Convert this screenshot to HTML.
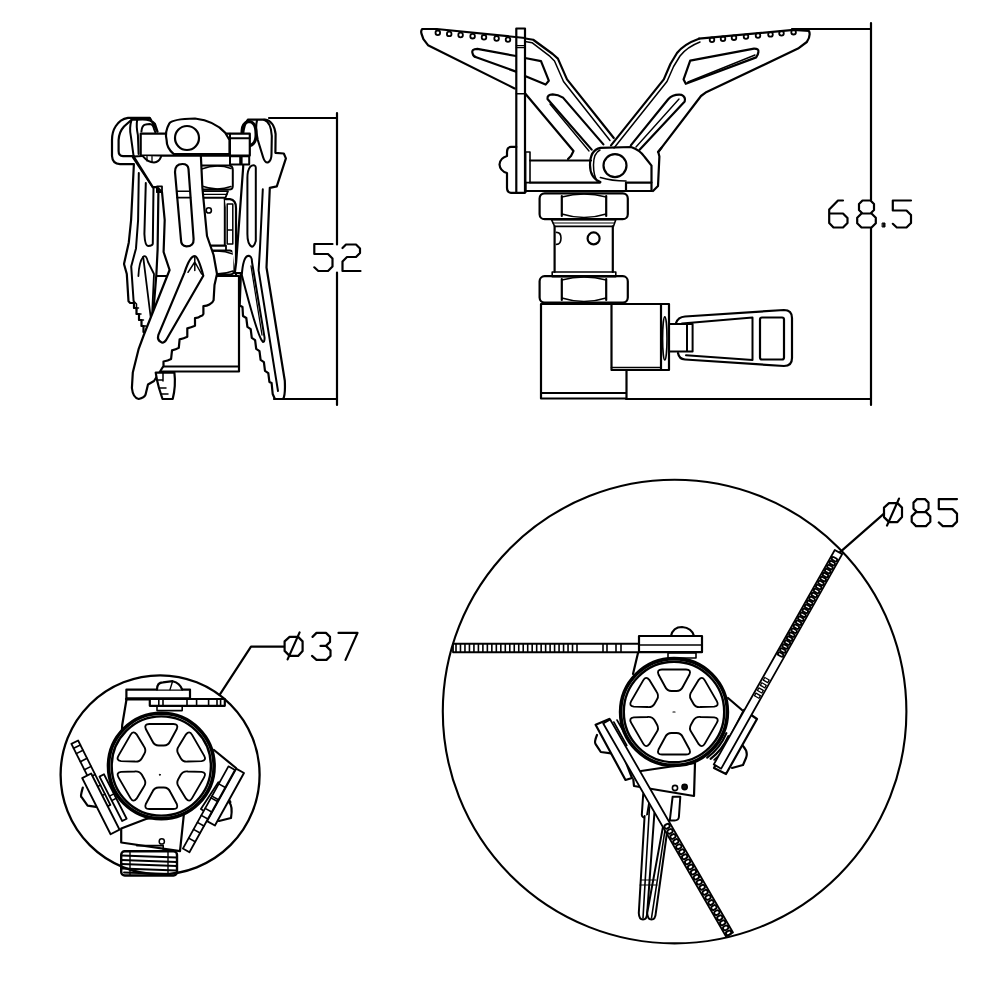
<!DOCTYPE html>
<html><head><meta charset="utf-8">
<style>
html,body{margin:0;padding:0;background:#fff;width:1000px;height:1000px;overflow:hidden;font-family:"Liberation Sans",sans-serif;}
svg{display:block;}
</style></head><body>
<svg width="1000" height="1000" viewBox="0 0 1000 1000">
<defs>
<path id="d5" d="M19,0.5 H0.8 V10.5 H14.5 L19,15 V23 L14.5,27.5 H4.8 L0.8,23.8"/>
<path id="d2" d="M1.5,4.5 L5,1 H15 L19,5 V9.5 L15,13.5 H6 L1.5,18 V27.5 H19.5"/>
<path id="d6" d="M15,0.5 H10 L1.2,9.5 V23 L5.5,27.5 H15 L19.5,23 V18 L15,13.5 H1.5"/>
<path id="d8" d="M6,0.5 H14 L17.5,4 V10 L14,13.5 H6 L2.5,10 V4 Z M5,13.5 H15 L19.3,17.8 V23.2 L15,27.5 H5 L0.7,23.2 V17.8 Z"/>
<path id="d3" d="M1,4.5 L5,0.5 H14.5 L18.5,4.5 V9.5 L14.5,13.5 H9 M14.5,13.5 L19,18 V23.5 L15,27.5 H5 L0.5,23.5"/>
<path id="d7" d="M0.5,0.5 H19.5 L7.5,27.5"/>
<path id="dphi" d="M6,4.5 H14.5 L19,9 V18.5 L14.5,23.5 H6 L1,18.5 V9 Z M4,27 L16,0"/>
<g id="hole"><path d="M-14,-8 Q-16,-12 -11,-12 H11 Q16,-12 14,-8 L3,9 Q0,13 -3,9 Z"/></g>
</defs>
<g fill="none" stroke="#000" stroke-width="2.2" stroke-linejoin="round" stroke-linecap="round">

<!-- ===== Dimension lines & text ===== -->
<g id="dims">
  <!-- 52 -->
  <path d="M269,118 H337 M337,113 V244.5 M337,272.5 V405 M274,399 H337"/>
  <use href="#d5" x="313.5" y="243.5"/>
  <use href="#d2" x="341" y="243.5"/>
  <!-- 68.5 -->
  <path d="M792,29 H871 M871,23 V200 M871,228 V405 M626,399 H871"/>
  <use href="#d6" x="828" y="200"/>
  <use href="#d8" x="856.5" y="200"/>
  <rect x="882.5" y="223" width="2.5" height="4" fill="#111" stroke-width="1"/>
  <use href="#d5" x="892" y="200"/>
  <!-- ø37 -->
  <path d="M219.6,694.8 L251,646.7 H283.6"/>
  <use href="#dphi" x="283.6" y="632.4"/>
  <use href="#d3" x="311.5" y="632.4"/>
  <use href="#d7" x="338" y="632.4"/>
  <!-- ø85 -->
  <path d="M839.8,552.4 L884,513.6"/>
  <use href="#dphi" x="883" y="498.6"/>
  <use href="#d8" x="911" y="498.6"/>
  <use href="#d5" x="938" y="498.6"/>
</g>


<!-- ===== Top-right stove ===== -->
<g id="stoveR">
  <!-- left wing -->
  <path d="M436.6,29 L422.2,29 Q420.5,31 421.6,34 L423.4,39.2 L428,45.2 L514.6,88.4"/>
  <path d="M436.6,29 L525,38" />
  <g stroke-width="1.8"><circle cx="437.8" cy="32.8" r="2.3"/><circle cx="449.2" cy="33.9" r="2.3"/><circle cx="460.6" cy="35.0" r="2.3"/><circle cx="472.6" cy="36.2" r="2.3"/><circle cx="484" cy="37.3" r="2.3"/><circle cx="496.6" cy="38.5" r="2.3"/><circle cx="508" cy="39.6" r="2.3"/></g>
  <!-- slot1 -->
  <path d="M516,56 L477.4,48.8 Q471,49 472.6,53.5 Q473.5,57 476.2,57.2 L516,71.6"/>
  <path d="M525,58 L541,61.2 L548.8,80.7 L545.6,84.6 L525,76"/>
  <!-- arm outer double edge -->
  <path d="M525.4,38.5 L533.2,39.75 L552.7,54 L557.9,58.6 L567,79.4 L613.8,138"/>
  <path d="M525,41.5 L532,42.7 L550,56.4 L554.5,61 L563.5,81.5 L610,140.5" stroke-width="1.5"/>
  <!-- arm lower edge -->
  <path d="M525.4,93.7 L573.5,151 L571,156 L568,159"/>
  <!-- slot2 -->
  <path d="M591.7,149.6 L547.5,99 Q547,94.5 552.7,94.4 Q558,94.5 563,97.6 L603.4,144.4"/>
  <path d="M589,151 L550,104" stroke-width="1.4"/>
  <!-- right wing -->
  <path d="M699,38.7 L793.6,29.9 L809,31 Q811,36 806.8,42 L798,48.6 L705.6,92.6 L701,96 L661.6,147.6 L658.3,152 L659.4,156.4 L658,186 L653,191"/>
  <g stroke-width="1.8"><circle cx="712" cy="39.8" r="2.3"/><circle cx="723" cy="38.8" r="2.3"/><circle cx="734" cy="37.7" r="2.3"/><circle cx="746" cy="36.6" r="2.3"/><circle cx="758" cy="35.5" r="2.3"/><circle cx="770.5" cy="34.4" r="2.3"/><circle cx="781.5" cy="33.3" r="2.3"/><circle cx="793.6" cy="32.2" r="2.3"/></g>
  <path d="M699,38.7 Q684,44 677,53 L670.4,64 L663.8,79.4 L611,145.4"/>
  <path d="M700,42 Q687,47 680,56 L673.6,66.5 L667,81.5 L614,148" stroke-width="1.5"/>
  <!-- upper slot -->
  <path d="M685.8,83.8 L683.6,79.4 L690.2,60.7 L754,48.6 Q759,48.5 758.4,52 Q758,55 756.2,57.4 Z"/>
  <path d="M688,82 L755,55" stroke-width="1.4"/>
  <!-- lower slot -->
  <path d="M630.8,145.4 L668.2,99.2 Q673,94 681.4,94.8 Q686,97 684.7,101.4 L639.6,149.8"/>
  <path d="M636,147 L679,99" stroke-width="1.4"/>
  <!-- vertical plate -->
  <rect x="516.3" y="28.5" width="8.7" height="164.3"/>
  <path d="M516.3,45.6 H525 M516.3,47.6 H525 M516.3,93.7 H525" stroke-width="1.4"/>
  <!-- knob -->
  <path d="M516.3,146.9 H511 Q507,147 507,152 V156 Q500,158 499.5,164.5 Q500,171 507,173 V188 Q507,192.5 511,192.8 H516.3"/>
  <!-- washer -->
  <rect x="525.6" y="152" width="4.4" height="30.6" stroke-width="1.6"/>
  <!-- pin bar -->
  <path d="M530,160.5 H591 M530,182.6 H600"/>
  <!-- bottom plate -->
  <path d="M525.6,182.6 V192 M525.6,191 H651.5 M626,182.6 H651.5 M626,182.6 V191" />
  <!-- lug -->
  <path d="M600.4,182 Q590,178 590,165 Q590,150 600.4,147.8 L631,147 Q640,150 644.7,157 L651.5,165.6 L651.5,191"/>
  <path d="M597,181 Q593.5,175 593.5,165 Q593.5,153 600,150" stroke-width="1.5"/>
  <path d="M600.4,177.5 Q612,181 626,181" stroke-width="1.6"/>
  <circle cx="615" cy="165.6" r="11.5"/>
  <path d="M658,152 L661.6,147.6" />
  <!-- upper hex nut -->
  <rect x="539.6" y="193.4" width="88.2" height="25.8" rx="5"/>
  <path d="M561.8,196 V216 M606.2,196 V216"/>
  <path d="M561.8,197 Q584,191 606.2,197 M561.8,214 Q584,221 606.2,214" stroke-width="1.5"/>
  <!-- ring -->
  <path d="M551.6,219.8 H615.8 L613.4,226.4 H554.6 Z" stroke-width="1.6"/>
  <path d="M553,223 H614.5" stroke-width="1"/>
  <!-- cylinder -->
  <path d="M554.6,226.4 V272 M612.8,226.4 V272"/>
  <circle cx="593.6" cy="238.4" r="6"/>
  <path d="M556.5,232.4 Q561,232.4 561,238 Q561,244.4 556.5,244.4" stroke-width="1.6"/>
  <!-- lower ring -->
  <path d="M552.2,272 H615.8 V276.8 H552.2 Z" stroke-width="1.6"/>
  <!-- lower hex nut -->
  <rect x="539.6" y="276.2" width="88.2" height="26.4" rx="5"/>
  <path d="M561.8,279 V300 M606.2,279 V300"/>
  <path d="M561.8,280 Q584,274 606.2,280 M561.8,298 Q584,305 606.2,298" stroke-width="1.5"/>
  <!-- main block -->
  <path d="M541,304 H661 M541,304 V398.5 H626.5 V370 M541,393 H626.5"/>
  <path d="M611.5,304 V370 H669 V304 H661 V370"/>
  <path d="M611.5,367.5 H661" stroke-width="1.6"/>
  <ellipse cx="664.8" cy="338.4" rx="2.2" ry="21.5" stroke-width="1.6"/>
  <!-- stem -->
  <path d="M669.4,324 H692.6 V351.6 H669.4 M687,324 V351.6" stroke-width="2"/>
  <!-- handle -->
  <path d="M676,323 Q678,317 685,316.5 L784,310 Q792,310 792,318 V358 Q792,366 784,366 L685,359.5 Q679,359 678,353" fill="none"/>
  <path d="M682,323.5 L752.5,317.5 V360 L686,355.2" stroke-width="2"/>
  <rect x="760" y="317.5" width="24" height="42" rx="2"/>
</g>


<!-- ===== Top-left folded stove ===== -->
<g id="stoveL">
  <!-- L0: body behind -->
  <path d="M152.8,276 H239 V371.5 H152.8 Z" fill="#fff"/>
  <path d="M152.8,366.5 H239" stroke-width="2"/>
  <path d="M172,250.4 H230 Q234.4,251 234.4,256 V270 Q234.4,274.4 230,274.4 H172 Z" fill="#fff" stroke-width="2"/>
  <path d="M205,252.5 Q220,249 233,254 M205,272 Q220,276 233,271" stroke-width="1.4"/>
  <path d="M176,245.6 H226 V250.4 H176 Z" fill="#fff" stroke-width="1.8"/>
  <rect x="176" y="197.6" width="48.8" height="48" fill="#fff" stroke-width="2"/>
  <circle cx="208.8" cy="210.4" r="2.6" stroke-width="1.6"/>
  <path d="M224.8,199.2 H230 Q236,200 236,208 V276" fill="#fff" stroke-width="2.2"/>
  <path d="M227.2,204 H232.8 V244 H227.2 Z M227.2,230 H232.8" stroke-width="1.5"/>
  <path d="M172,191.2 H228 L225.5,197.6 H175 Z" fill="#fff" stroke-width="1.8"/>
  <path d="M173,194.4 H227" stroke-width="1.2"/>
  <path d="M165,165.6 H229 Q232.8,166 232.8,170 V186 Q232.8,189.6 229,189.6 H165 Z" fill="#fff" stroke-width="2"/>
  <path d="M201.6,169 Q217,163.5 231,168.5 M201.6,186 Q217,191.5 231,186.5" stroke-width="1.5"/>

  <!-- L1: right leg -->
  <path d="M243.2,166.8 L236.2,262 L234.8,273 L240.9,273.2 L239.7,305.5 L242.5,307 L243,316 L246.3,318 L247.4,326.9 L250.7,329.1 L251.8,337.9 L255.1,340.1 L256.2,348.9 L259.5,351.1 L260.6,359.9 L263.9,362.1 L265,370.9 L268.3,373.1 L269.4,381.9 L271.6,383 L272.7,394 L274.9,399 H283 Q285.5,396 284.8,380.8 L266.5,267.5 L269.8,187.8 L276.8,186.4 L285.9,158.4 L283.8,153.5 L275.4,152.8 L275.6,134 Q274,121 265,119.5 L248,119.6 Q244,124 243,135 Z" fill="#fff"/>
  <path d="M262.8,189.2 L260,248 L258.6,270.4 L278,391" stroke-width="2"/>
  <path d="M257,120.5 Q255,128 257.8,140 L263.2,157.5 Q265,163 267.8,162.5 Q271.5,161 271.5,154 L271.8,136 Q271,122 264,119.8" stroke-width="2.1"/>
  <path d="M250.2,166.8 Q252,165 254.4,165.4 Q256,166 255.8,168.2 L255.8,241 Q254,247 251.6,246.6 Q247.4,244 247.4,234 V178 Q247.4,170 250.2,166.8 Z" stroke-width="2"/>
  <path d="M247.5,256 Q252,255 252,262 L264.6,337.8 Q264.5,343 262.7,341.6 Q258,338 241.8,275 Q243,258 247.5,256 Z" stroke-width="2"/>
  <path d="M251,266 L262,335" stroke-width="1.3"/>
  <!-- right washer -->
  <path d="M244,146.5 Q256.5,147 256,134 Q256,121 248,121.5 Q242,124 242,131 V146" stroke-width="3"/>

  <!-- L1: left leg -->
  <path d="M149.8,117.8 H128 Q120,119 115.5,126.5 Q112,132 112,140 V156 Q112.5,164 120,164.1 L133.9,164 L131.1,220 L128.8,242.4 L124,264 L126.8,274 L128.5,301.2 L130.2,303 H134 V308 H136.5 V314 H139 V320 H141.5 V326 H143.5 V332 H145.5 V337 L150,337 L153,316.5 L156.4,274 L157.6,249.6 L158.4,192 L157,186 L152.8,187.1 L133,157.5 L133.9,156.1 H123 Q118.6,156 118.6,151 V140 Q119,132 124,126.5 L131.6,119.7 L137.2,119.7 Q150,118 155,124 L157.5,131.6 Z" fill="#fff"/>
  <path d="M131.6,119.7 Q129,128 130.9,136.5 L133.7,156.8" stroke-width="2"/>
  <path d="M137.2,119.7 Q136,126 137.9,135.1 L138.6,154" stroke-width="2"/>
  <path d="M141.4,131.6 Q142,125 145.6,124.6 L149.8,123.9 Q153,124 154,128.8 L155.4,132.3" stroke-width="2"/>
  <path d="M138.8,173.1 L138.1,220 L136,248.4 L131.2,266.4 L133.6,301" stroke-width="2"/>
  <path d="M145.8,182.9 L144.4,234 Q145,246 148,246 Q152.8,246 152.8,243.6 L153.5,187.1" stroke-width="2"/>
  <path d="M157,186.4 H162 V192 H157 Z" stroke-width="1.8"/>
  <path d="M143.2,256.8 Q146,254 148,262 L154,274 L152,316.5 L150.6,316.5 Z" stroke-width="1.8"/>
  <path d="M138.4,276 Q139,262 143.2,256.8" stroke-width="1.8"/>
  <path d="M133.6,301 L136.5,304 V310 M134,308 H138.5 M136.5,314 H141 M139,320 H143.5 M141.5,326 H146 M143.5,332 H148" stroke-width="1.5"/>

  <!-- center arm body -->
  <path d="M134,157 L152.8,187.1 H157 L162,192 L164.7,220 L163.6,252 L169.6,270 L166,279 L143.8,335 L138.7,348.8 L132.8,372.6 L131.9,388 Q133,398 138.7,399 Q144,398 145.5,394.8 L148,384.5 L154,381 L163.5,366 L163.5,361.5 Q168,360.5 171.1,358.9 L172,350.4 Q176,349.5 178.8,347.9 L179.6,339.4 Q184,338.5 187.3,336.8 L187.3,328.3 Q191,327.5 195,325.8 L195,318.1 Q199,317.5 200,316.4 Q203,315.5 203.4,313.9 L203.4,306.2 Q207,306 209.4,304.5 Q213,302.5 213.6,300.3 L214.5,285 L217,274 L213.6,255 L207,236 L202.4,188 L200.8,154.4 L201,146 H142 V156 L134,156.5 Z" fill="#fff"/>
  <path d="M157,186.4 H162 V192 H157 Z" stroke-width="1.8"/>
  <!-- L2: top bar -->
  <path d="M140.7,133.7 H249.8 V155.6 H140.7 Z" fill="#fff"/>
  <path d="M230,138.2 H249.8 M230,133.7 V155.6" stroke-width="2"/>
  <path d="M230,156.2 H249.2 V164.6 H230 Z M240.2,156.2 V164.6 M241.6,156.2 V164.6" fill="#fff" stroke-width="2"/>
  <path d="M142.8,156.1 Q148,162.4 154,162.4 Q159,162 161,156.8" fill="#fff" stroke-width="2"/>
  <path d="M147,156.5 V161 M152,156.5 V162" stroke-width="1.3"/>

  <!-- L3: lug -->
  <path d="M229.5,154.2 V140 L225.2,132.8 Q215,121 195,118.5 Q172,119 169.3,123.5 Q164.5,132 166.6,140 Q166.5,148 173.8,154.2 Z" fill="#fff"/>
  <circle cx="187" cy="138" r="12" stroke-width="2.2"/>
  <!-- upper slot (see-through) -->
  <path d="M175,172 Q175,164 182.4,164 Q188,164 188.5,169 L193.6,239 Q194,246.4 186.4,246.4 Q181,246 181,240 Z" fill="#fff"/>
  <path d="M176.8,191.2 H190 M177,197.6 H190.5" stroke-width="1.6"/>
  <!-- lower slot -->
  <path d="M194.8,256.2 Q198,256 203.3,275.7 L166,340.3 Q163,344 161,342 Q157,340 158.3,335.2 L184.6,272.3 Q190,256 194.8,256.2 Z" fill="#fff"/>
  <path d="M188,272.3 L194.8,262 L201.6,274 M194.8,257 V270.6" stroke-width="1.5"/>
  <!-- small bottom toothed piece -->
  <path d="M155.7,372.6 H174.4 Q176,386 172.7,399 H162.5 L159,388 L157,380 Z" fill="#fff"/>
  <path d="M157,380 H163 M159,388 H166 M161,394 H168 M163,372.6 V381" stroke-width="1.5"/>
</g>

<!-- ===== Small circle (ø37) contents ===== -->
<g id="smallC">
  <!-- body behind -->
  <path d="M126.4,700 L122.2,725 L120,770" />
  <path d="M214,750 L236,768" />
  <!-- blobs -->
  <path d="M82.8,787.6 Q80,797 81.6,797.2 L87.6,805.6 L96,806.8" fill="#fff"/>
  <path d="M222,819 L230.4,802 L226,795" fill="none"/>
  <!-- bottom block -->
  <path d="M121.2,828.5 L146,819 L184,813 L180,851.2 L121.2,842.5 Z" fill="#fff"/>
  <circle cx="161.8" cy="841.4" r="2.6" stroke-width="1.5"/>
  <!-- threaded connector -->
  <path d="M136.6,845.6 H163.2 V851.2" stroke-width="1.6"/>
  <rect x="121.2" y="851.2" width="55.8" height="24.3" rx="3.5" fill="#fff" stroke-width="2.4"/>
  <path d="M121.5,855.5 L176.5,857.5 M121.5,860 L176.5,862 M121.5,864 L176.5,866 M121.5,868.5 L176.5,870.5 M124,872.5 L170,874" stroke-width="1.9"/>
  <path d="M130,852 V875 M168,852 V875" stroke-width="1.4"/>
  <!-- top bracket -->
  <rect x="126.4" y="689.6" width="63.6" height="9" fill="#fff"/>
  <path d="M157,689.6 Q157,682.4 163,682.4 L172.6,681.2 Q180,683 182.2,689.6" fill="#fff"/>
  <path d="M172.6,681.2 L170,689.6" stroke-width="1.4"/>
  <path d="M126.4,699 H190" stroke-width="3"/>
  <rect x="149.8" y="699" width="75" height="6.8" fill="#fff"/>
  <path d="M158.8,699 V705.8 M163,699 V705.8 M187,699 V705.8 M196.6,699 V705.8 M208.6,699 V705.8 M217,699 V705.8 M220.6,699 V705.8" stroke-width="1.6"/>
  <rect x="157" y="705.8" width="25.2" height="4.8" stroke-width="1.6"/>
  <!-- burner head -->
  <circle cx="161.3" cy="766" r="52.8" fill="#fff" stroke-width="3.6"/>
  <circle cx="161.3" cy="766" r="49.6" stroke-width="2.4"/>
  <g transform="translate(161.3,766.5)" stroke-width="1.9">
    <path id="hh" d="M-12,-42.5 H12 Q17.5,-42.5 15.5,-37.5 L9,-25.5 Q7,-21 2.5,-21 H-2.5 Q-7,-21 -9,-25.5 L-15.5,-37.5 Q-17.5,-42.5 -12,-42.5 Z"/>
    <use href="#hh" transform="rotate(60)"/><use href="#hh" transform="rotate(120)"/>
    <use href="#hh" transform="rotate(180)"/><use href="#hh" transform="rotate(240)"/><use href="#hh" transform="rotate(300)"/>
  </g>
  <circle cx="159.8" cy="774.8" r="0.5" fill="#111" stroke-width="1"/>
  <!-- dark double strips hugging burner -->
  <g transform="translate(99.5,776.5) rotate(-27)"><rect x="0" y="0" width="5" height="50" fill="#fff" stroke-width="1.8"/><path d="M0,22 H5 M0,27 H5" stroke-width="1.5"/></g>
  <g transform="translate(222.5,785) rotate(33)"><rect x="-5" y="0" width="5" height="32" fill="#fff" stroke-width="1.8"/></g>
  <!-- left strip + plate -->
  <g transform="translate(71.4,743.8) rotate(-26.6)">
    <rect x="0" y="0" width="7.5" height="72" fill="#fff" stroke-width="1.8"/>
    <path d="M0,5 H7.5 M0,11 H7.5 M0,20 H7.5 M0,29 H7.5 M0,38 H7.5 M0,50 H7.5 M0,60 H7.5" stroke-width="1.6"/>
  </g>
  <g transform="translate(82.2,778) rotate(-26.8)">
    <rect x="0" y="0" width="10" height="63" fill="#fff" stroke-width="1.9"/>
  </g>
  <!-- right strip + plate -->
  <path d="M229,802 Q233,806 231,818 L219,821" fill="#fff"/>
  <g transform="translate(244,773) rotate(29)">
    <rect x="-9" y="0" width="9" height="60" fill="#fff" stroke-width="1.9"/>
  </g>
  <g transform="translate(235,770) rotate(29)">
    <rect x="-7.5" y="0" width="7.5" height="94" fill="#fff" stroke-width="1.8"/>
    <path d="M-7.5,20 H0 M-7.5,34 H0 M-7.5,36 H0 M-7.5,48 H0 M-7.5,56 H0 M-7.5,64 H0 M-7.5,72 H0 M-7.5,82 H0" stroke-width="1.6"/>
  </g>
</g>

<!-- ===== Big circle (ø85) contents ===== -->
<g id="bigC">
  <!-- horizontal toothed strip -->
<g transform="translate(453.0,648.0) rotate(0.00)">
<rect x="0" y="-4.25" width="249.0" height="8.50" fill="#fff" stroke-width="1.8"/>
<path d="M3.00,-4.25 V4.25 M7.48,-4.25 V4.25 M11.96,-4.25 V4.25 M16.44,-4.25 V4.25 M20.93,-4.25 V4.25 M25.41,-4.25 V4.25 M29.89,-4.25 V4.25 M34.37,-4.25 V4.25 M38.85,-4.25 V4.25 M43.33,-4.25 V4.25 M47.81,-4.25 V4.25 M52.30,-4.25 V4.25 M56.78,-4.25 V4.25 M61.26,-4.25 V4.25 M65.74,-4.25 V4.25 M70.22,-4.25 V4.25 M74.70,-4.25 V4.25 M79.19,-4.25 V4.25 M83.67,-4.25 V4.25 M88.15,-4.25 V4.25 M92.63,-4.25 V4.25 M97.11,-4.25 V4.25 M101.59,-4.25 V4.25 M106.07,-4.25 V4.25 M110.56,-4.25 V4.25 M115.04,-4.25 V4.25 M119.52,-4.25 V4.25 M124.00,-4.25 V4.25" stroke-width="1.6"/>
<path d="M150.00,-4.25 V4.25 M154.00,-4.25 V4.25" stroke-width="1.6"/>
<path d="M163.00,-4.25 V4.25 M168.00,-4.25 V4.25" stroke-width="1.6"/>
</g>
  <!-- bracket -->
  <path d="M671,636 Q673,627 682,627 Q692,628 694,636" fill="#fff"/>
  <rect x="639" y="636" width="63" height="16" fill="#fff"/>
  <path d="M639,645 H702" stroke-width="1.6"/>
  <rect x="668" y="653" width="28" height="5" stroke-width="1.6"/>
  <!-- body -->
  <path d="M638,653 L633,674" />
  <path d="M728,698 L742,710"/>
  <!-- blobs -->
  <path d="M597,735 Q594,742 595.6,744.2 L600.8,752 L611.2,753.3" />
  <path d="M743,746 Q748.5,752 746,758 L743,765 L732,768"/>
  <!-- lower body -->
  <path d="M641,771 L695,763 L694,796 L634,786 L633.3,779.3" fill="#fff"/>
  <circle cx="675" cy="788" r="2.6" stroke-width="1.6"/>
  <circle cx="684.6" cy="787" r="2.6" stroke-width="1.6" fill="#111"/>
  <!-- handle legs -->
  <path d="M643.2,794 L641.8,815 Q642,818 646.7,817.5 L650,798 Z" fill="#fff" stroke-width="2"/>
  <path d="M644.6,816 L638.8,913 Q639,919.5 643,919.5 Q647,919.5 647.2,913 L654.4,813" fill="#fff" stroke-width="2"/>
  <path d="M649.5,807 L643,918" stroke-width="1.6"/>
  <path d="M662.8,827.6 L647.2,913 Q647.5,919.5 651.5,919.5 Q655.5,919.5 655.8,913 L667,832.5" fill="#fff" stroke-width="2"/>
  <path d="M665,830 L651.5,918" stroke-width="1.6"/>
  <path d="M641,880 H656 M640,885 H657" stroke-width="1.2"/>
  <path d="M672.6,796.8 H680.3 L678.9,817 Q678.5,820.5 674.5,820.5 H669.8 Z" fill="#fff" stroke-width="2"/>
  <!-- burner head -->
  <circle cx="674" cy="712" r="53.4" fill="#fff" stroke-width="3.6"/>
  <circle cx="674" cy="712" r="50.2" stroke-width="2.4"/>
  <g transform="translate(674,712)" stroke-width="1.9">
    <use href="#hh"/><use href="#hh" transform="rotate(60)"/><use href="#hh" transform="rotate(120)"/>
    <use href="#hh" transform="rotate(180)"/><use href="#hh" transform="rotate(240)"/><use href="#hh" transform="rotate(300)"/>
  </g>
  <path d="M673,712 H675" stroke-width="1.2"/>
  <!-- left plate -->
  <path d="M595.6,724.7 L609.3,718.9 L632,778 L625.5,780 Z" fill="#fff"/>
  <path d="M613.8,722 L626.8,745.5 M617,720 L630,743" stroke-width="1.6"/>
  <!-- left long strip -->
<g transform="translate(606.7,721.5) rotate(60.04)">
<rect x="0" y="-4.00" width="245.9" height="8.00" fill="#fff" stroke-width="1.8"/>
<rect x="118.94" y="-2.72" width="3.99" height="5.44" rx="1.99" stroke-width="1.9"/>
<rect x="124.80" y="-2.72" width="3.99" height="5.44" rx="1.99" stroke-width="1.9"/>
<rect x="130.67" y="-2.72" width="3.99" height="5.44" rx="1.99" stroke-width="1.9"/>
<rect x="136.53" y="-2.72" width="3.99" height="5.44" rx="1.99" stroke-width="1.9"/>
<rect x="142.39" y="-2.72" width="3.99" height="5.44" rx="1.99" stroke-width="1.9"/>
<rect x="148.26" y="-2.72" width="3.99" height="5.44" rx="1.99" stroke-width="1.9"/>
<rect x="154.12" y="-2.72" width="3.99" height="5.44" rx="1.99" stroke-width="1.9"/>
<rect x="159.98" y="-2.72" width="3.99" height="5.44" rx="1.99" stroke-width="1.9"/>
<rect x="165.85" y="-2.72" width="3.99" height="5.44" rx="1.99" stroke-width="1.9"/>
<rect x="171.71" y="-2.72" width="3.99" height="5.44" rx="1.99" stroke-width="1.9"/>
<rect x="177.57" y="-2.72" width="3.99" height="5.44" rx="1.99" stroke-width="1.9"/>
<rect x="183.44" y="-2.72" width="3.99" height="5.44" rx="1.99" stroke-width="1.9"/>
<rect x="189.30" y="-2.72" width="3.99" height="5.44" rx="1.99" stroke-width="1.9"/>
<rect x="195.17" y="-2.72" width="3.99" height="5.44" rx="1.99" stroke-width="1.9"/>
<rect x="201.03" y="-2.72" width="3.99" height="5.44" rx="1.99" stroke-width="1.9"/>
<rect x="206.89" y="-2.72" width="3.99" height="5.44" rx="1.99" stroke-width="1.9"/>
<rect x="212.76" y="-2.72" width="3.99" height="5.44" rx="1.99" stroke-width="1.9"/>
<rect x="218.62" y="-2.72" width="3.99" height="5.44" rx="1.99" stroke-width="1.9"/>
<rect x="224.48" y="-2.72" width="3.99" height="5.44" rx="1.99" stroke-width="1.9"/>
<rect x="230.35" y="-2.72" width="3.99" height="5.44" rx="1.99" stroke-width="1.9"/>
<rect x="236.21" y="-2.72" width="3.99" height="5.44" rx="1.99" stroke-width="1.9"/>
<rect x="242.07" y="-2.72" width="3.99" height="5.44" rx="1.99" stroke-width="1.9"/>
</g>
  <path d="M726.4,733.2 A56.5,56.5 0 0 1 707.2,757.7 M728.4,736.2 A59.5,59.5 0 0 1 710.6,758.9" stroke-width="2.2"/>
  <path d="M730.2,739.4 A62.5,62.5 0 0 1 714.2,759.9" stroke-width="1.8"/>
  <!-- right plate -->
  <path d="M744,710 L757,719 L726,774 L714,768 Z" fill="#fff"/>
  <!-- right long strip -->
<g transform="translate(838.5,552.0) rotate(119.43)">
<rect x="0" y="-4.25" width="246.3" height="8.50" fill="#fff" stroke-width="1.8"/>
<rect x="6.73" y="-2.89" width="3.10" height="5.78" rx="1.55" stroke-width="1.9"/>
<rect x="11.29" y="-2.89" width="3.10" height="5.78" rx="1.55" stroke-width="1.9"/>
<rect x="15.85" y="-2.89" width="3.10" height="5.78" rx="1.55" stroke-width="1.9"/>
<rect x="20.41" y="-2.89" width="3.10" height="5.78" rx="1.55" stroke-width="1.9"/>
<rect x="24.97" y="-2.89" width="3.10" height="5.78" rx="1.55" stroke-width="1.9"/>
<rect x="29.53" y="-2.89" width="3.10" height="5.78" rx="1.55" stroke-width="1.9"/>
<rect x="34.09" y="-2.89" width="3.10" height="5.78" rx="1.55" stroke-width="1.9"/>
<rect x="38.65" y="-2.89" width="3.10" height="5.78" rx="1.55" stroke-width="1.9"/>
<rect x="43.21" y="-2.89" width="3.10" height="5.78" rx="1.55" stroke-width="1.9"/>
<rect x="47.77" y="-2.89" width="3.10" height="5.78" rx="1.55" stroke-width="1.9"/>
<rect x="52.33" y="-2.89" width="3.10" height="5.78" rx="1.55" stroke-width="1.9"/>
<rect x="56.89" y="-2.89" width="3.10" height="5.78" rx="1.55" stroke-width="1.9"/>
<rect x="61.45" y="-2.89" width="3.10" height="5.78" rx="1.55" stroke-width="1.9"/>
<rect x="66.01" y="-2.89" width="3.10" height="5.78" rx="1.55" stroke-width="1.9"/>
<rect x="70.57" y="-2.89" width="3.10" height="5.78" rx="1.55" stroke-width="1.9"/>
<rect x="75.13" y="-2.89" width="3.10" height="5.78" rx="1.55" stroke-width="1.9"/>
<rect x="79.69" y="-2.89" width="3.10" height="5.78" rx="1.55" stroke-width="1.9"/>
<rect x="84.25" y="-2.89" width="3.10" height="5.78" rx="1.55" stroke-width="1.9"/>
<rect x="88.81" y="-2.89" width="3.10" height="5.78" rx="1.55" stroke-width="1.9"/>
<rect x="93.37" y="-2.89" width="3.10" height="5.78" rx="1.55" stroke-width="1.9"/>
<rect x="97.93" y="-2.89" width="3.10" height="5.78" rx="1.55" stroke-width="1.9"/>
<rect x="102.49" y="-2.89" width="3.10" height="5.78" rx="1.55" stroke-width="1.9"/>
<rect x="107.05" y="-2.89" width="3.10" height="5.78" rx="1.55" stroke-width="1.9"/>
<rect x="111.61" y="-2.89" width="3.10" height="5.78" rx="1.55" stroke-width="1.9"/>
<rect x="116.17" y="-2.89" width="3.10" height="5.78" rx="1.55" stroke-width="1.9"/>
<rect x="145.50" y="-2.55" width="3.00" height="5.10" stroke-width="1.3"/>
<rect x="151.50" y="-2.55" width="3.00" height="5.10" stroke-width="1.3"/>
<rect x="157.50" y="-2.55" width="3.00" height="5.10" stroke-width="1.3"/>
<rect x="163.50" y="-2.55" width="3.00" height="5.10" stroke-width="1.3"/>
</g>
</g>

<!-- ===== circles ===== -->
<circle cx="160.1" cy="774.8" r="99.5" stroke-width="2.3"/>
<circle cx="674.6" cy="711.6" r="231.8" stroke-width="2.1"/>

</g>
</svg>
</body></html>
